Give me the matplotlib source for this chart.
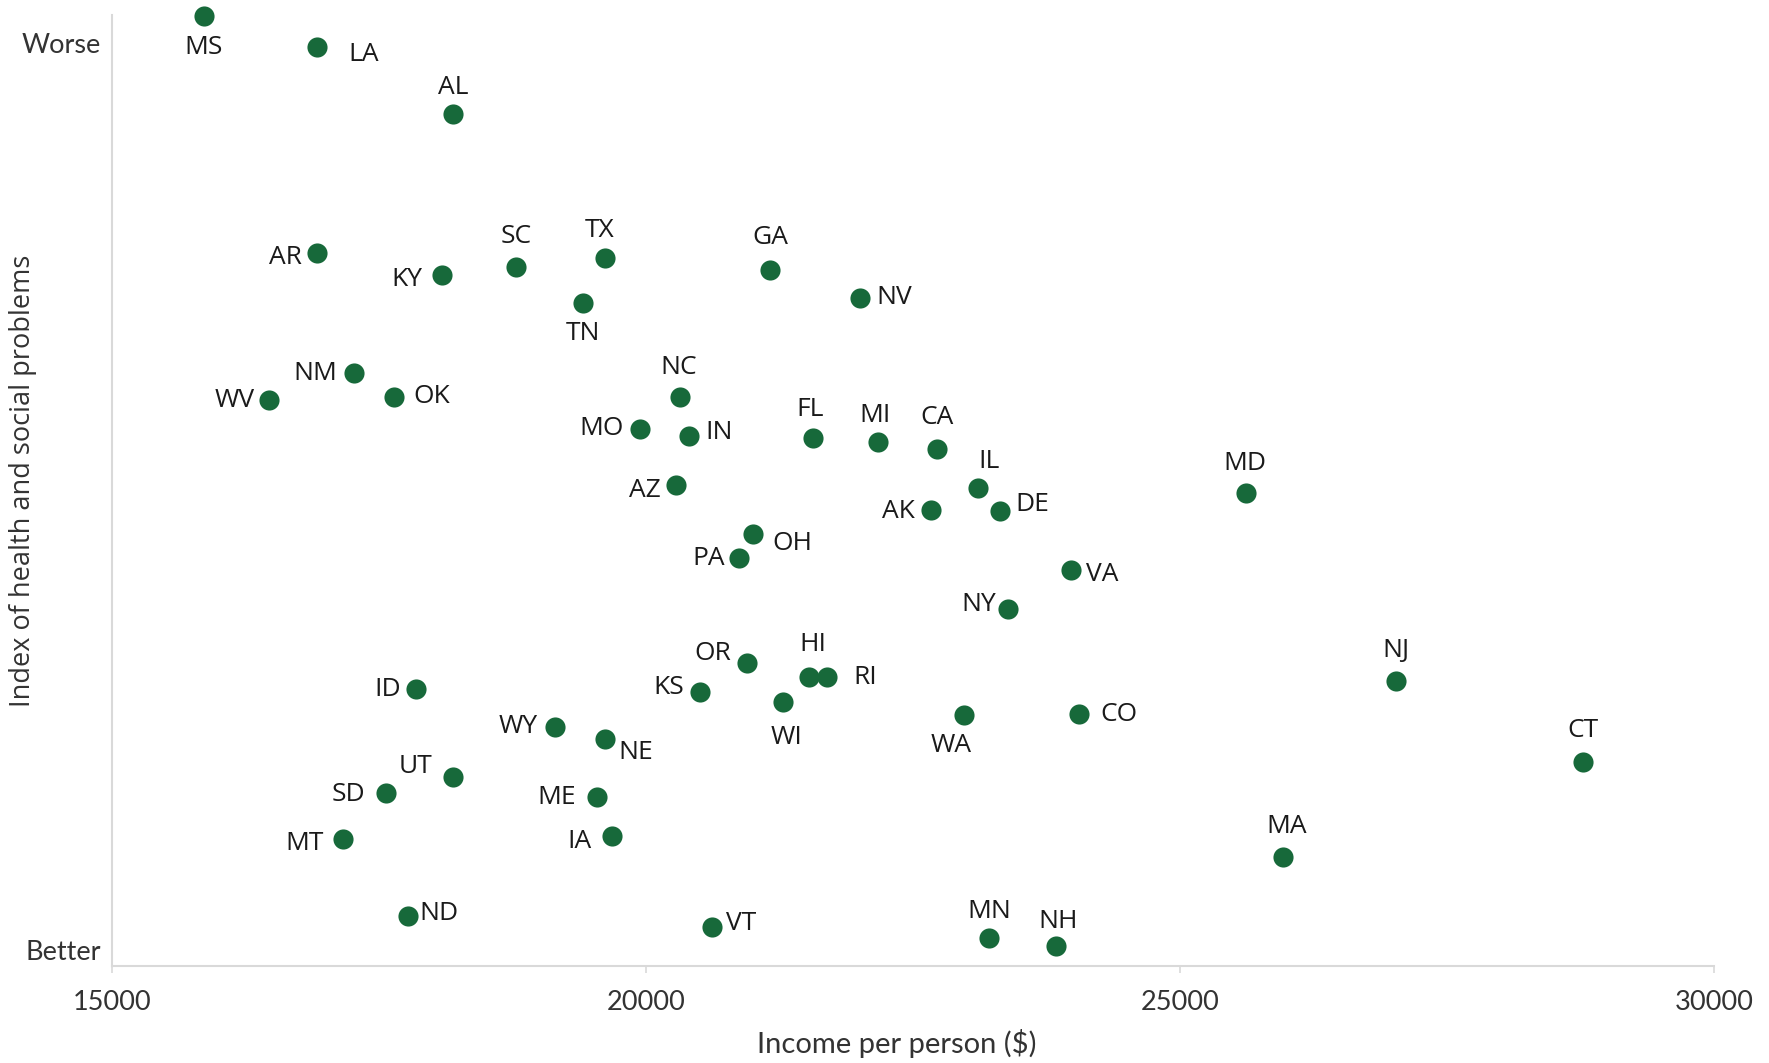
import matplotlib
matplotlib.use("Agg")
import matplotlib.pyplot as plt

# ---- data ----
states = ["MS", "LA", "AL", "AR", "KY", "SC", "TX", "TN", "GA", "NV",
          "NM", "OK", "WV", "NC", "MO", "IN", "FL", "MI", "CA", "AZ",
          "IL", "MD", "AK", "DE", "OH", "PA", "VA", "NY", "NJ", "OR",
          "HI", "RI", "ID", "KS", "WI", "WA", "CO", "WY", "NE", "CT",
          "UT", "SD", "ME", "MT", "IA", "MA", "ND", "VT", "MN", "NH"]
income = [15861, 16917, 18194, 16917, 18088, 18785, 19619, 19408, 21160, 22004,
          17265, 17645, 16473, 20316, 19946, 20400, 21561, 22173, 22722, 20284,
          23113, 25614, 22669, 23313, 21002, 20875, 23978, 23387, 27018, 20949,
          21529, 21698, 17846, 20505, 21287, 22975, 24052, 19144, 19619, 28770,
          18194, 17561, 19545, 17160, 19682, 25962, 17772, 20622, 23208, 23841]
index = [10.30, 9.96, 9.22, 7.69, 7.44, 7.53, 7.63, 7.13, 7.50, 7.19,
         6.36, 6.10, 6.06, 6.10, 5.75, 5.67, 5.65, 5.60, 5.52, 5.13,
         5.10, 5.04, 4.85, 4.84, 4.59, 4.32, 4.19, 3.76, 2.97, 3.16,
         3.01, 3.01, 2.88, 2.84, 2.73, 2.59, 2.60, 2.46, 2.33, 2.07,
         1.91, 1.73, 1.69, 1.22, 1.26, 1.03, 0.38, 0.25, 0.13, 0.04]
x_ticks = [15000, 20000, 25000, 30000]
y_ticks = [0, 10]
y_ticklabels = ["Better", "Worse"]

# label offsets (style only), in reference-pixel units (x right, y down)
label_offsets = {
    "MS": (0, 28), "LA": (42, 7), "AL": (0, -23), "AR": (-28, 4), "KY": (-31, 4),
    "SC": (0, -27), "TX": (-5, -24), "TN": (0, 27), "GA": (0, -29), "NV": (30, 0),
    "NM": (-34, 0), "OK": (33, 0), "WV": (-31, 0), "NC": (-1, -26), "MO": (-34, 0),
    "IN": (27, -3), "FL": (-2, -25), "MI": (-3, -24), "CA": (0, -28), "AZ": (-28, 5),
    "IL": (9, -23), "MD": (-1, -26), "AK": (-29, 1), "DE": (29, -6), "OH": (35, 9),
    "PA": (-27, 0), "VA": (28, 4), "NY": (-26, -4), "NJ": (0, -27), "OR": (-31, -9),
    "HI": (3, -29), "RI": (34, 0), "ID": (-25, 1), "KS": (-28, -4), "WI": (3, 31),
    "WA": (-11, 27), "CO": (36, 0), "WY": (-32, 0), "NE": (27, 12), "CT": (0, -28),
    "UT": (-33, -9), "SD": (-33, 1), "ME": (-36, 1), "MT": (-34, 4), "IA": (-29, 5),
    "MA": (3, -27), "ND": (27, -2), "VT": (25, -3), "MN": (1, -24), "NH": (2, -22),
}

GREEN = "#17693A"
GRID = "#d9d9d9"
TXT = "#333333"

fig = plt.figure(figsize=(17.69, 10.63), dpi=100)
ax = fig.add_axes([112 / 1769, 1 - 966 / 1063, (1714 - 112) / 1769, (966 - 15) / 1063])

ax.scatter(income, index, s=210, color=GREEN, zorder=3, clip_on=False, linewidths=0)

scale = 1.128
for st, xv, yv in zip(states, income, index):
    dx, dy = label_offsets[st]
    ax.annotate(st, (xv, yv), xytext=(dx * scale, -dy * scale), textcoords="offset pixels",
                ha="center", va="center", fontsize=19, family="Open Sans", color="#1a1a1a",
                annotation_clip=False)

ax.set_xlim(15000, 30000)
ax.set_ylim(-0.176, 10.31)
ax.set_xticks(x_ticks)
ax.set_xticklabels([str(t) for t in x_ticks], family="Lato", fontsize=19.5, color=TXT)
ax.set_yticks(y_ticks)
ax.set_yticklabels(y_ticklabels, family="Lato", fontsize=19.5, color=TXT)

for side in ["top", "right"]:
    ax.spines[side].set_visible(False)
for side in ["left", "bottom"]:
    ax.spines[side].set_color(GRID)
    ax.spines[side].set_linewidth(1.5)

ax.tick_params(axis="x", length=5, width=1.2, color=GRID, pad=12)
ax.tick_params(axis="y", length=0, pad=8)

ax.set_xlabel("Income per person ($)", family="Lato", fontsize=21, color=TXT)
ax.xaxis.set_label_coords(0.49, -0.066)
ax.set_ylabel("Index of health and social problems", family="Open Sans", fontsize=19.5,
              color=TXT)
ax.yaxis.set_label_coords(-0.047, 0.51)

fig.savefig("out.png", dpi=100, facecolor="white")
